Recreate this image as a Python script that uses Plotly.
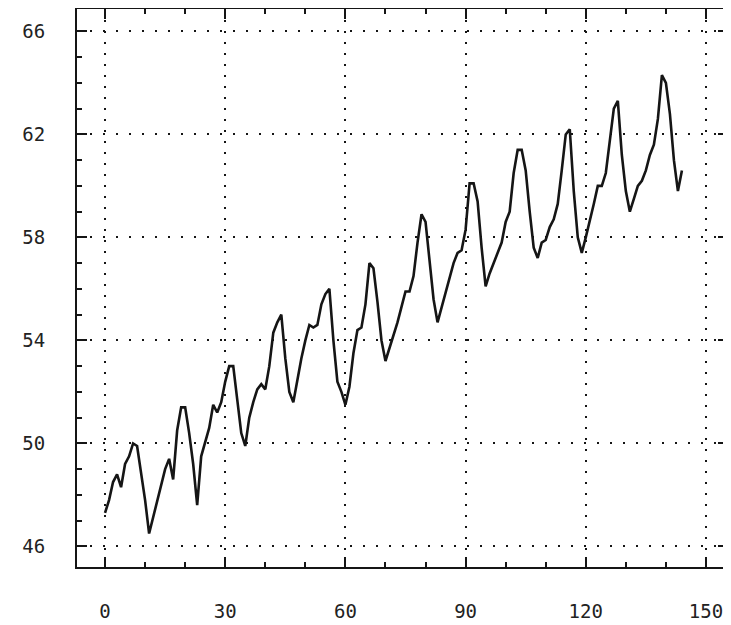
import plotly.graph_objects as go

# Series values (index 0..144)
x_values = list(range(145))
y_values = [
    47.3, 47.8, 48.5, 48.8, 48.3, 49.2, 49.5, 50.0, 49.9, 48.9,
    47.8, 46.5, 47.1, 47.8, 48.4, 49.0, 49.4, 48.6, 50.5, 51.4,
    51.4, 50.4, 49.2, 47.6, 49.5, 50.1, 50.6, 51.5, 51.2, 51.6,
    52.4, 53.0, 53.0, 51.7, 50.4, 49.9, 51.0, 51.6, 52.1, 52.3,
    52.1, 53.0, 54.3, 54.7, 55.0, 53.3, 52.0, 51.6, 52.5, 53.3,
    54.0, 54.6, 54.5, 54.6, 55.4, 55.8, 56.0, 54.0, 52.4, 52.0,
    51.5, 52.2, 53.5, 54.4, 54.5, 55.4, 57.0, 56.8, 55.5, 54.0,
    53.2, 53.7, 54.2, 54.7, 55.3, 55.9, 55.9, 56.5, 57.8, 58.9,
    58.6, 57.0, 55.6, 54.7, 55.3, 55.9, 56.4, 57.0, 57.4, 57.5,
    58.3, 60.1, 60.1, 59.4, 57.6, 56.1, 56.6, 57.0, 57.4, 57.8,
    58.6, 59.0, 60.5, 61.4, 61.4, 60.6, 59.0, 57.6, 57.2, 57.8,
    57.9, 58.4, 58.7, 59.3, 60.6, 62.0, 62.2, 59.8, 58.0, 57.4,
    58.0, 58.6, 59.3, 60.0, 60.0, 60.5, 61.8, 63.0, 63.3, 61.2,
    59.8, 59.0, 59.5, 60.0, 60.2, 60.6, 61.2, 61.6, 62.6, 64.3,
    64.0, 62.8, 61.0, 59.8, 60.6,
]

x_tick_vals = [0, 30, 60, 90, 120, 150]
x_tick_text = ["0", "30", "60", "90", "120", "150"]
y_tick_vals = [46, 50, 54, 58, 62, 66]
y_tick_text = ["46", "50", "54", "58", "62", "66"]

INK = "#151515"
FONT = dict(family="DejaVu Sans Mono", size=19, color="#222")

fig = go.Figure()
fig.add_trace(go.Scatter(
    x=x_values, y=y_values, mode="lines",
    line=dict(color=INK, width=2.6),
    showlegend=False, hoverinfo="skip",
))

# The page body has an 8px margin, so the figure is shifted by 8px;
# size and margins compensate for it.
fig.update_layout(
    width=723, height=617,
    margin=dict(l=69, r=3, t=1, b=58, autoexpand=False),
    paper_bgcolor="white", plot_bgcolor="white",
    showlegend=False,
)

fig.update_xaxes(
    range=[-7, 155.5], automargin=False,
    tickmode="array", tickvals=x_tick_vals, ticktext=x_tick_text,
    ticks="inside", ticklen=10, tickwidth=2, tickcolor=INK,
    minor=dict(dtick=10, tick0=0, ticks="inside", ticklen=5, tickwidth=2, tickcolor=INK, showgrid=False),
    showline=True, linecolor=INK, linewidth=2, mirror="allticks",
    showgrid=True, gridcolor=INK, gridwidth=2, griddash="2px,9px",
    zeroline=False, tickfont=FONT, ticklabelstandoff=26,
)
fig.update_yaxes(
    range=[45.2, 66.87], automargin=False,
    tickmode="array", tickvals=y_tick_vals, ticktext=y_tick_text,
    ticks="inside", ticklen=10, tickwidth=2, tickcolor=INK,
    minor=dict(dtick=1, tick0=46, ticks="inside", ticklen=5, tickwidth=2, tickcolor=INK, showgrid=False),
    showline=True, linecolor=INK, linewidth=2, mirror="allticks",
    showgrid=True, gridcolor=INK, gridwidth=2, griddash="2px,11px",
    zeroline=False, tickfont=FONT, ticklabelstandoff=26,
)

fig.write_html("out.html")
